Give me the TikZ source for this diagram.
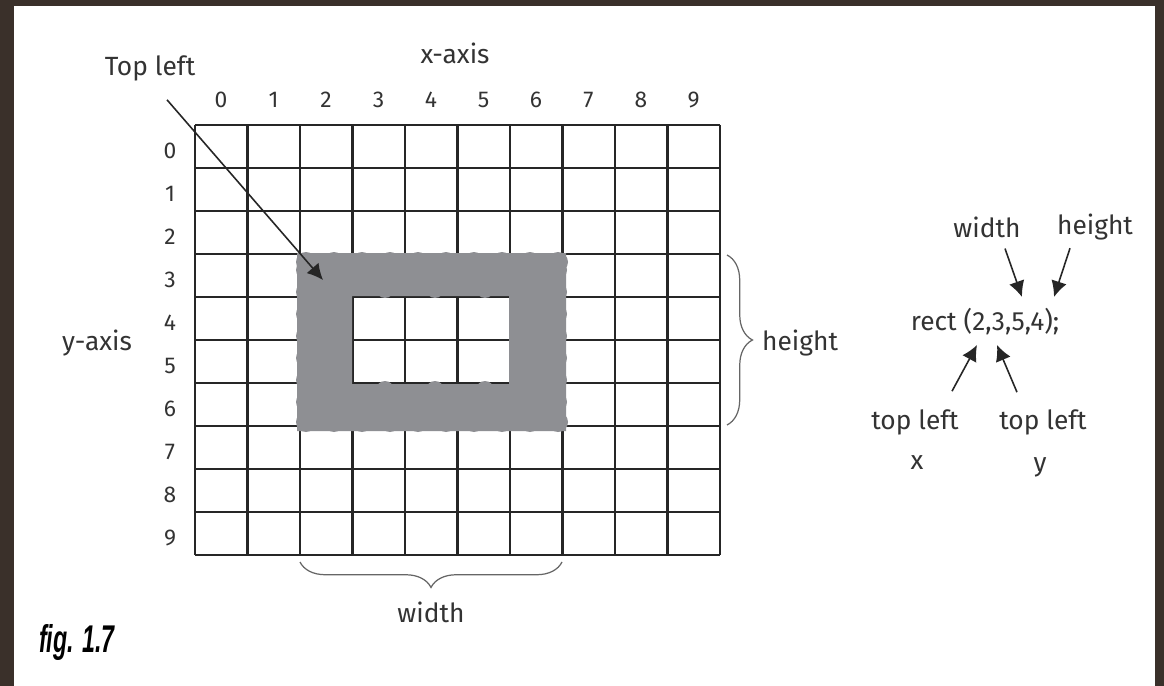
\documentclass[tikz,border=0pt]{standalone}
\usepackage{fontspec}
\setmainfont{Fira Sans}
\newfontfamily\figfont[FakeStretch=0.6]{Liberation Sans}
\usetikzlibrary{arrows.meta,decorations.pathreplacing,positioning}
\definecolor{frame}{HTML}{3A302A}
\definecolor{ink}{HTML}{333333}
\definecolor{scribble}{HTML}{8E8F93}
\tikzset{
  lbl/.style={text=ink,font=\fontsize{15}{18}\selectfont,inner sep=1pt},
  num/.style={text=ink,font=\fontsize{13}{15}\selectfont,inner sep=1pt},
  gridline/.style={line width=1.2pt,black!85},
  arr/.style={-{Latex[length=9pt,width=9pt]},line width=0.9pt,black!85},
  curly/.style={decorate,decoration={brace,amplitude=14.5pt},draw=black!60,line width=0.7pt},
}
\begin{document}
\begin{tikzpicture}[x=0.02cm,y=-0.02cm]
% frame
\fill[frame] (0,0) rectangle (1164,686);
\fill[white] (14,6) rectangle (1155,686);

% grid 10x10
\foreach \i in {0,...,10} {
  \draw[gridline] ({195+52.5*\i},125) -- ({195+52.5*\i},555);
  \draw[gridline] (195,{125+43*\i}) -- (720,{125+43*\i});
}

% the scribbled rect(2,3,5,4)
\fill[scribble,even odd rule] (297,253) rectangle (566,431) (352,296) rectangle (509,384);
\foreach \x in {306,334,...,560} {
  \fill[scribble] (\x,262) circle (10);
  \fill[scribble] (\x,422) circle (10);
}
\foreach \y in {270,292,...,414} {
  \fill[scribble] (306,\y) circle (10);
  \fill[scribble] (557,\y) circle (10);
}
\foreach \x in {385,435,485} {
  \fill[scribble] (\x,289) circle (9);
  \fill[scribble] (\x,390) circle (9);
}

% axis labels
\node[lbl] (xaxis) at (455,53) {x-axis};
\node[lbl] (yaxis) at (97,343) {y-axis};
\foreach \i in {0,...,9} {
  \node[num] (cx\i) at ({221+52.5*\i},100) {\i};
  \node[num] (ry\i) at (170,{151+43*\i}) {\i};
}

% top left pointer
\node[lbl] (topleft) at (150,68) {Top left};
\coordinate (tltip) at (323,280);
\draw[arr] ([shift={(17,17)}]topleft.south) -- (tltip);

% braces
\draw[curly] (727,255) -- (727,425);
\node[lbl,anchor=west] (hbrace) at (760,343) {height};
\draw[curly] (562,562) -- (300,562);
\node[lbl] (wbrace) at (431,612) {width};

% the call
\node[lbl] (rect) at (985,322) {rect (2,3,5,4);};
\node[lbl] (wd) at (987,227) {width};
\node[lbl] (ht) at (1095,227) {height};
\node[lbl] (tlx) at (915,422) {top left};
\node[lbl] (tly) at (1043,422) {top left};
\node[lbl] (xlab) at (917,463) {x};
\node[lbl] (ylab) at (1040,467) {y};
\coordinate (wtip) at (1022,297);
\coordinate (htip) at (1054,297);
\coordinate (xtip) at (977,345);
\coordinate (ytip) at (997,345);
\draw[arr] ([shift={(18,9)}]wd.south) -- (wtip);
\draw[arr] ([shift={(-25,6)}]ht.south) -- (htip);
\draw[arr] ([shift={(37,-16)}]tlx.north) -- (xtip);
\draw[arr] ([shift={(-26,-15)}]tly.north) -- (ytip);

\node[anchor=west,text=black] (fig) at (33,643) {\figfont\fontsize{22}{24}\selectfont\bfseries\itshape fig. 1.7};
\end{tikzpicture}
\end{document}
